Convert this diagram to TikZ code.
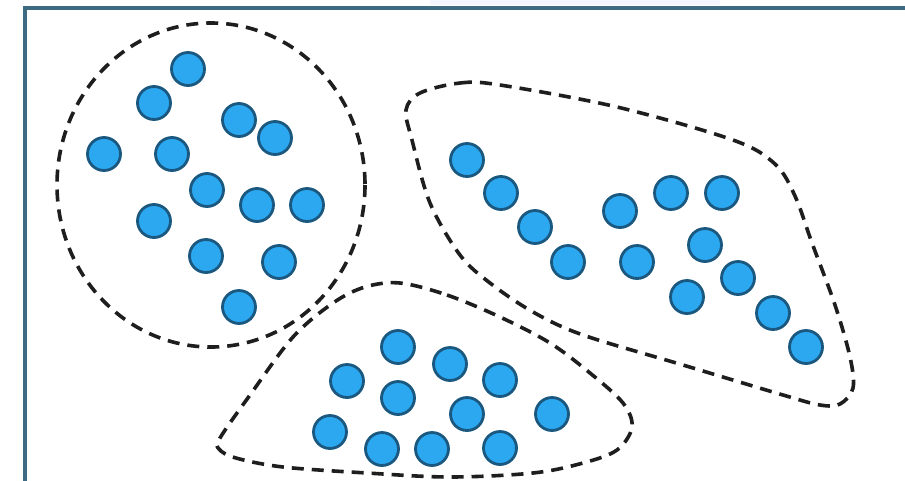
\documentclass[tikz,border=0pt]{standalone}
\definecolor{dotfill}{RGB}{44,168,240}
\definecolor{dotline}{RGB}{26,88,128}
\definecolor{framecol}{RGB}{62,106,130}
\definecolor{dashcol}{RGB}{30,30,30}
\tikzset{
  dot/.style={circle, draw=dotline, fill=dotfill, line width=2.8pt, minimum size=33pt, inner sep=0pt},
  groupline/.style={draw=dashcol, line width=3.6pt, dash pattern=on 12pt off 8pt},
  framestyle/.style={draw=framecol, line width=3.2pt}
}
\begin{document}
\begin{tikzpicture}[x=1pt,y=-1pt]
\useasboundingbox (0,0) rectangle (905,480);
\fill[white] (0,0) rectangle (905,480);
\fill[blue!4] (430,0) rectangle (720,5);
% frame
\draw[framestyle] (25,495) -- (25,8) -- (920,8);
% group outlines
\draw[groupline] (211,185) ellipse [x radius=154, y radius=162];
\draw[groupline] plot[smooth cycle, tension=0.55] coordinates {
 (420,93) (460,83) (500,85) (617,107) (733,140) (775,164) (795,196) (812,243)
 (835,305) (850,357) (853,388) (840,404) (820,405) (783,395) (683,365)
 (583,335) (533,312) (490,283) (460,255) (430,203) (412,140) (406,110)};
\draw[groupline] plot[smooth cycle, tension=0.55] coordinates {
 (400,283) (447,295) (500,317) (550,343) (590,373) (623,403) (632,427)
 (617,450) (583,463) (533,473) (450,477) (367,473) (283,467) (236,458)
 (219,449) (220,438) (250,395) (293,337) (333,303) (365,287)};
% left group
\foreach \n/\x/\y in {1/188/69,2/154/103,3/104/154,4/172/154,5/239/120,6/275/138,
  7/207/190,8/257/205,9/307/205,10/154/221,11/206/256,12/279/262,13/239/307}
  \node[dot] (l\n) at (\x,\y) {};
% right group
\foreach \n/\x/\y in {1/467/160,2/501/193,3/535/227,4/568/262,5/620/211,6/637/262,
  7/671/193,8/722/193,9/705/245,10/738/278,11/687/297,12/773/313,13/806/347}
  \node[dot] (r\n) at (\x,\y) {};
% bottom group
\foreach \n/\x/\y in {1/398/347,2/450/364,3/347/381,4/398/398,5/500/380,6/467/414,
  7/552/414,8/330/432,9/382/449,10/432/449,11/500/448}
  \node[dot] (b\n) at (\x,\y) {};
\end{tikzpicture}
\end{document}
